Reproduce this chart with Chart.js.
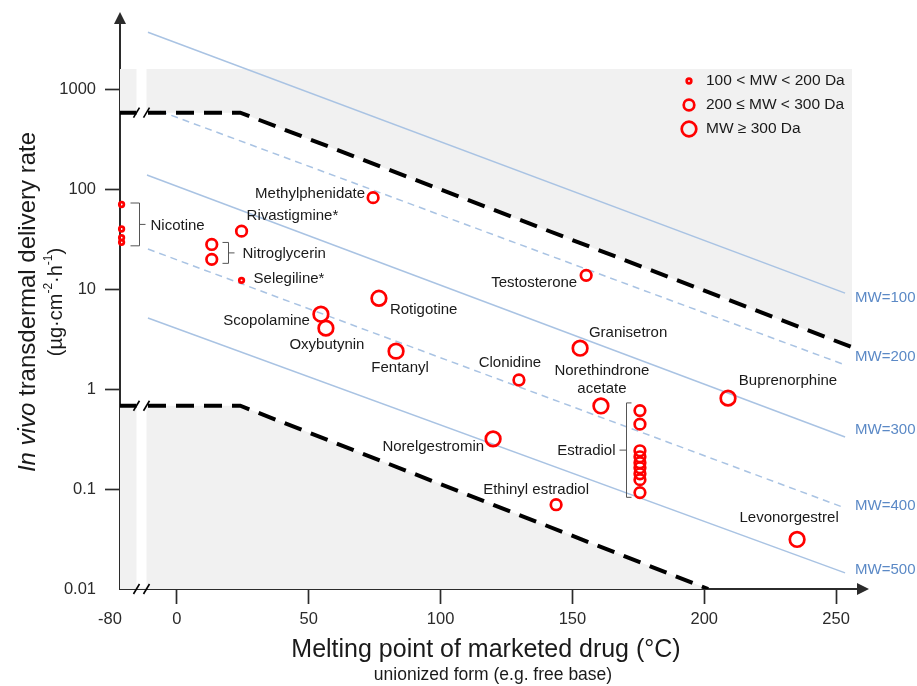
<!DOCTYPE html>
<html>
<head>
<meta charset="utf-8">
<script src="https://cdn.jsdelivr.net/npm/chart.js@4.4.1/dist/chart.umd.min.js"></script>
<style>
  html, body { margin: 0; padding: 0; background: #fff; }
  #wrap { width: 917px; height: 686px; }
</style>
</head>
<body>
<div id="wrap"><canvas id="chart" width="917" height="686"></canvas></div>
<script>
// ---- data -------------------------------------------------------------
const drugNames = ['Nicotine', 'Nitroglycerin', 'Rivastigmine*', 'Selegiline*', 'Methylphenidate',
  'Scopolamine', 'Oxybutynin', 'Rotigotine', 'Fentanyl', 'Norelgestromin', 'Clonidine',
  'Ethinyl estradiol', 'Granisetron', 'Testosterone', 'Norethindrone acetate', 'Estradiol',
  'Buprenorphine', 'Levonorgestrel'];
// melting point of the unionized form (°C)
const meltingPoints = [-79, 13.2, 24.5, 24.5, 74.4, 54.6, 56.5, 76.6, 83.1, 119.9, 129.7,
  143.8, 152.9, 155.2, 160.8, 175.6, 209, 235.2];
// 0: 100 < MW < 200, 1: 200 <= MW < 300, 2: MW >= 300
const mwClass = [0, 1, 1, 0, 1, 2, 2, 2, 2, 2, 1, 1, 2, 1, 2, 1, 2, 2];
// in vivo delivery rates (µg·cm-2·h-1), one entry per marketed product
const deliveryRates = [
  [70, 39.8, 32.6, 29.3],
  [27.9, 19.8],
  [37.9],
  [12.2],
  [82],
  [5.6],
  [4.06],
  [8.08],
  [2.39],
  [0.317],
  [1.23],
  [0.0697],
  [2.56],
  [13.7],
  [0.677],
  [0.608, 0.445, 0.241, 0.21, 0.183, 0.163, 0.142, 0.124, 0.092],
  [0.81],
  [0.0313]
];
const mwClassLabels = ['100 < MW < 200 Da', '200 \u2264 MW < 300 Da', 'MW \u2265 300 Da'];

// predicted delivery for a given molecular weight (line end points)
const mwLineLabels = ['MW=100', 'MW=200', 'MW=300', 'MW=400', 'MW=500'];
const mwLineX = [[-11, 253.4], [-6.4, 253.4], [-11.4, 253.4], [-11, 253.4], [-11, 253.4]];
const mwLineY = [[3700, 9.1], [600, 1.74], [138, 0.331], [25.1, 0.0646], [5.13, 0.0145]];

// upper and lower limits of feasible delivery
const upperBoundX = [-21.6, 24, 256];
const upperBoundY = [580, 580, 2.62];
const lowerBoundX = [-21.6, 24, 201.5];
const lowerBoundY = [0.68, 0.68, 0.01];
const shadeTop = 1585;

const xTicks = [0, 50, 100, 150, 200, 250];
const yTicks = [0.01, 0.1, 1, 10, 100, 1000];
const brokenTickValue = -80;

// ---- axis geometry ----------------------------------------------------
const X_MIN = -21.6, X_MAX = 258.3;
const Y_MIN = 0.01, Y_MAX = 4900;
const BREAK_SHIFT = 58;           // values below -50 °C are drawn left of the axis break
const BREAK_GAP = [-15.35, -11.55];
const plotX = v => (v < -50 ? v + BREAK_SHIFT : v);

const FONT = '"Liberation Sans", Arial, Helvetica, sans-serif';
const RED = '#ff0000';
const GRAY = '#f1f1f1';
const AXIS = '#2b2b2b';
const TEXT = '#1a1a1a';
const MW_LINE = '#a9c3e3';
const MW_TEXT = '#5b89c6';
const classRadius = [2.3, 5.3, 7.3];
const MARK_WIDTH = 2.7;

// ---- label layout (pixel offsets from the drug's first mark) -----------
const labelLayout = {
  'Methylphenidate': { dx: -8, dy: -4, align: 'right' },
  'Rivastigmine*': { dx: 5, dy: -15, align: 'left' },
  'Selegiline*': { dx: 12, dy: -2, align: 'left' },
  'Testosterone': { dx: -9, dy: 8, align: 'right' },
  'Rotigotine': { dx: 11, dy: 12, align: 'left' },
  'Scopolamine': { dx: -11, dy: 7, align: 'right' },
  'Oxybutynin': { dx: 1, dy: 17, align: 'center' },
  'Fentanyl': { dx: 4, dy: 17, align: 'center' },
  'Granisetron': { dx: 48, dy: -15, align: 'center' },
  'Clonidine': { dx: -9, dy: -17, align: 'center' },
  'Norethindrone acetate': { dx: 1, dy: -35, align: 'center', lines: ['Norethindrone', 'acetate'], gap: 18 },
  'Buprenorphine': { dx: 60, dy: -17, align: 'center' },
  'Norelgestromin': { dx: -9, dy: 8, align: 'right' },
  'Ethinyl estradiol': { dx: -20, dy: -15, align: 'center' },
  'Levonorgestrel': { dx: -8, dy: -22, align: 'center' }
};
// grouped products: spine offset, arm length, padding, middle tick and label gap
const bracketLayout = {
  'Nicotine': { spine: 17.5, arm: -9, padTop: 1.5, padBottom: 3.5, tick: 6, gap: 5 },
  'Nitroglycerin': { spine: 16.3, arm: -6, padTop: 2, padBottom: 4, tick: 6, gap: 8 },
  'Estradiol': { spine: -14.3, arm: 5, padTop: 7.7, padBottom: 4.7, tick: -7, gap: 4 }
};

// ---- datasets ---------------------------------------------------------
const pts = (xs, ys) => xs.map((x, i) => ({ x, y: ys[i] }));

const mwSets = mwLineLabels.map((lab, i) => ({
  type: 'line', label: lab,
  data: pts(mwLineX[i], mwLineY[i]),
  borderColor: MW_LINE, borderWidth: 1.5,
  borderDash: i % 2 === 1 ? [7, 5] : [],
  pointRadius: 0, fill: false, order: 3
}));

const boundSets = [
  { type: 'line', label: 'upper limit', data: pts(upperBoundX, upperBoundY),
    borderColor: '#000', borderWidth: 4, borderDash: [18, 10], pointRadius: 0,
    fill: { value: shadeTop }, backgroundColor: GRAY, order: 2 },
  { type: 'line', label: 'lower limit', data: pts(lowerBoundX, lowerBoundY),
    borderColor: '#000', borderWidth: 4, borderDash: [18, 10], pointRadius: 0,
    fill: 'start', backgroundColor: GRAY, order: 2 }
];

const pointSets = mwClassLabels.map((lab, k) => ({
  type: 'scatter', label: lab,
  data: drugNames.flatMap((n, i) => mwClass[i] === k
    ? deliveryRates[i].map(r => ({ x: plotX(meltingPoints[i]), y: r })) : []),
  pointRadius: classRadius[k], pointHoverRadius: classRadius[k],
  pointBorderWidth: MARK_WIDTH, pointBorderColor: RED, pointBackgroundColor: 'rgba(0,0,0,0)',
  borderColor: RED, backgroundColor: 'rgba(0,0,0,0)',
  showLine: false, clip: false, order: 0
}));

// ---- drawing helpers --------------------------------------------------
function text(ctx, s, x, y, size, align, color, style) {
  ctx.save();
  ctx.font = (style ? style + ' ' : '') + size + 'px ' + FONT;
  ctx.fillStyle = color || TEXT;
  ctx.textAlign = align || 'left';
  ctx.textBaseline = 'middle';
  ctx.fillText(s, x, y);
  ctx.restore();
}

// draws a run of [text, size, style, raise] pieces centred on x = 0
function richLine(ctx, parts, y) {
  const widths = parts.map(p => {
    ctx.font = (p[2] ? p[2] + ' ' : '') + p[1] + 'px ' + FONT;
    return ctx.measureText(p[0]).width;
  });
  let x = -widths.reduce((a, b) => a + b, 0) / 2;
  parts.forEach((p, i) => {
    ctx.font = (p[2] ? p[2] + ' ' : '') + p[1] + 'px ' + FONT;
    ctx.fillText(p[0], x, y - (p[3] || 0));
    x += widths[i];
  });
}

const decor = {
  id: 'decor',
  afterDraw(chart) {
    const ctx = chart.ctx;
    const xs = chart.scales.x, ys = chart.scales.y;
    const area = chart.chartArea;
    const px = v => xs.getPixelForValue(v);
    const py = v => ys.getPixelForValue(v);

    // axis break: white band and slash marks
    const g0 = px(BREAK_GAP[0]), g1 = px(BREAK_GAP[1]);
    ctx.save();
    ctx.fillStyle = '#fff';
    ctx.fillRect(g0, area.top, g1 - g0, area.bottom - 1.5 - area.top);
    ctx.strokeStyle = '#000';
    ctx.lineWidth = 1.6;
    const slashRows = [area.bottom, py(upperBoundY[0]), py(lowerBoundY[0])];
    slashRows.forEach(y => {
      [g0, g1].forEach(x => {
        ctx.beginPath();
        ctx.moveTo(x - 3, y + 5);
        ctx.lineTo(x + 3, y - 5);
        ctx.stroke();
      });
    });
    ctx.restore();

    // label for the broken part of the x axis
    text(ctx, String(brokenTickValue), px(plotX(brokenTickValue)) - 9, 619, 16.5, 'center', AXIS);

    // MW line labels
    const mwDy = [5, -8, -7, -2, -3];
    mwLineLabels.forEach((lab, i) => {
      const x = px(mwLineX[i][1]) + 10;
      const y = py(mwLineY[i][1]) + mwDy[i];
      text(ctx, lab, x, y, 15, 'left', MW_TEXT);
    });

    // drug labels
    drugNames.forEach((name, i) => {
      const lay = labelLayout[name];
      if (!lay) return;
      const x = px(plotX(meltingPoints[i])) + lay.dx;
      const y = py(deliveryRates[i][0]) + lay.dy;
      const lines = lay.lines || [name];
      lines.forEach((ln, j) => text(ctx, ln, x, y + j * (lay.gap || 0), 15, lay.align, TEXT));
    });

    // brackets for products sharing one drug
    ctx.save();
    ctx.strokeStyle = '#555';
    ctx.lineWidth = 1;
    drugNames.forEach((name, i) => {
      const b = bracketLayout[name];
      if (!b) return;
      const x0 = px(plotX(meltingPoints[i]));
      const yv = deliveryRates[i].map(py);
      const top = Math.min(...yv) - b.padTop, bot = Math.max(...yv) + b.padBottom;
      const sx = Math.round(x0 + b.spine) + 0.5;
      const mid = (top + bot) / 2;
      ctx.beginPath();
      ctx.moveTo(sx + b.arm, top); ctx.lineTo(sx, top); ctx.lineTo(sx, bot); ctx.lineTo(sx + b.arm, bot);
      ctx.moveTo(sx, mid); ctx.lineTo(sx + b.tick, mid);
      ctx.stroke();
      const tx = sx + b.tick + (b.tick > 0 ? b.gap : -b.gap);
      text(ctx, name, tx, mid + 1, 15, b.tick > 0 ? 'left' : 'right', TEXT);
    });
    ctx.restore();

    // legend for marker sizes
    mwClassLabels.forEach((lab, k) => {
      const y = 81 + k * 24;
      ctx.save();
      ctx.strokeStyle = RED;
      ctx.lineWidth = MARK_WIDTH;
      ctx.beginPath();
      ctx.arc(689, y, classRadius[k], 0, Math.PI * 2);
      ctx.stroke();
      ctx.restore();
      text(ctx, lab, 706, y, 15.5, 'left', TEXT);
    });

    // axis arrows
    ctx.save();
    ctx.fillStyle = AXIS;
    ctx.beginPath();
    ctx.moveTo(area.left, area.top - 8);
    ctx.lineTo(area.left - 6, area.top + 4);
    ctx.lineTo(area.left + 6, area.top + 4);
    ctx.closePath();
    ctx.fill();
    ctx.beginPath();
    ctx.moveTo(area.right + 11, area.bottom);
    ctx.lineTo(area.right - 1, area.bottom - 6);
    ctx.lineTo(area.right - 1, area.bottom + 6);
    ctx.closePath();
    ctx.fill();
    ctx.restore();

    // axis titles
    ctx.save();
    ctx.fillStyle = TEXT;
    ctx.textBaseline = 'middle';
    ctx.textAlign = 'left';
    ctx.translate(28, 302);
    ctx.rotate(-Math.PI / 2);
    richLine(ctx, [['In vivo', 24, 'italic'], [' transdermal delivery rate', 24]], 0);
    ctx.translate(0, 28);
    richLine(ctx, [['(\u00b5g\u00b7cm', 20], ['-2', 12, '', 7], ['\u00b7h', 20], ['-1', 12, '', 7], [')', 20]], 0);
    ctx.restore();

    text(ctx, 'Melting point of marketed drug (\u00b0C)', 486, 650, 25, 'center', TEXT);
    text(ctx, 'unionized form (e.g. free base)', 493, 675, 17.5, 'center', TEXT);
  }
};

// ---- chart ------------------------------------------------------------
new Chart(document.getElementById('chart'), {
  data: { datasets: [...mwSets, ...boundSets, ...pointSets] },
  options: {
    responsive: false,
    animation: false,
    events: [],
    layout: { padding: { top: 20, right: 59, left: 0, bottom: 0 } },
    plugins: {
      legend: { display: false },
      tooltip: { enabled: false },
      filler: { propagate: false, drawTime: 'beforeDatasetsDraw' }
    },
    scales: {
      x: {
        type: 'linear', min: X_MIN, max: X_MAX,
        afterBuildTicks: s => { s.ticks = xTicks.map(v => ({ value: v })); },
        afterFit: s => { s.height = 97; },
        grid: { drawOnChartArea: false, drawTicks: true, tickLength: 15, color: AXIS, tickWidth: 1.7 },
        border: { display: true, color: AXIS, width: 2 },
        ticks: { padding: 6, color: AXIS, font: { family: FONT, size: 16.5 }, maxRotation: 0, autoSkip: false,
          callback: v => String(v) }
      },
      y: {
        type: 'logarithmic', min: Y_MIN, max: Y_MAX,
        afterBuildTicks: s => { s.ticks = yTicks.map(v => ({ value: v })); },
        afterFit: s => { s.width = 120; },
        grid: { drawOnChartArea: false, drawTicks: true, tickLength: 15, tickWidth: 1.7,
          color: ctx => (ctx.tick && ctx.tick.value === Y_MIN ? 'rgba(0,0,0,0)' : AXIS) },
        border: { display: true, color: AXIS, width: 2 },
        ticks: { padding: 9, color: AXIS, font: { family: FONT, size: 16.5 }, autoSkip: false,
          callback: v => String(v) }
      }
    }
  },
  plugins: [decor]
});
</script>
</body>
</html>
